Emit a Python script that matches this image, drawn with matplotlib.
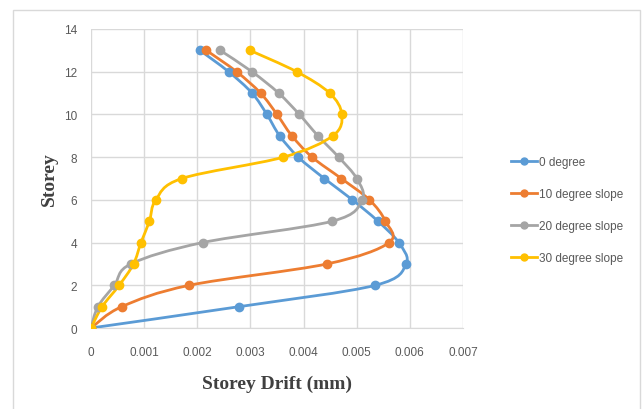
"""
Storey drift profiles for sloped-ground frames (0/10/20/30 degree)
"""
import numpy as np
import matplotlib
matplotlib.use("Agg")
import matplotlib.pyplot as plt
from matplotlib.path import Path
from matplotlib.patches import PathPatch, Rectangle
from matplotlib.lines import Line2D

storey = [0, 1, 2, 3, 4, 5, 6, 7, 8, 9, 10, 11, 12, 13]

drift_0 = [0, 0.00279, 0.00535, 0.00593, 0.00579, 0.00540, 0.00492, 0.00439,
           0.00390, 0.00355, 0.00331, 0.00303, 0.00259, 0.00205]
drift_10 = [0, 0.00058, 0.00185, 0.00444, 0.00561, 0.00554, 0.00524, 0.00471,
            0.00416, 0.00378, 0.00350, 0.00319, 0.00274, 0.00217]
drift_20 = [0, 0.00013, 0.00044, 0.00075, 0.00210, 0.00454, 0.00510, 0.00500,
            0.00466, 0.00427, 0.00392, 0.00353, 0.00303, 0.00243]
drift_30 = [0, 0.00021, 0.00053, 0.00080, 0.00094, 0.00110, 0.00122, 0.00171,
            0.00362, 0.00455, 0.00472, 0.00449, 0.00387, 0.00299]

series = [
    ("0 degree", drift_0, "#5b9bd5"),
    ("10 degree slope", drift_10, "#ed7d31"),
    ("20 degree slope", drift_20, "#a5a5a5"),
    ("30 degree slope", drift_30, "#ffc000"),
]

x_ticks = [0, 0.001, 0.002, 0.003, 0.004, 0.005, 0.006, 0.007]
x_tick_labels = ["0", "0.001", "0.002", "0.003", "0.004", "0.005", "0.006", "0.007"]
y_ticks = [0, 2, 4, 6, 8, 10, 12, 14]

TICK_FONT = ["Liberation Sans Narrow", "Liberation Sans", "DejaVu Sans"]
LABEL_FONT = ["Liberation Serif", "DejaVu Serif"]


def smooth_path(xs, ys):
    """Excel-style smoothed line: cubic Bezier segments through every point."""
    pts = np.column_stack([xs, ys])
    n = len(pts)
    verts = [pts[0]]
    codes = [Path.MOVETO]
    for i in range(n - 1):
        p0 = pts[i - 1] if i > 0 else pts[i]
        p1 = pts[i]
        p2 = pts[i + 1]
        p3 = pts[i + 2] if i + 2 < n else pts[i + 1]
        c1 = p1 + (p2 - p0) / 6.0
        c2 = p2 - (p3 - p1) / 6.0
        verts += [c1, c2, p2]
        codes += [Path.CURVE4] * 3
    return Path(verts, codes)


fig = plt.figure(figsize=(6.42, 4.10), dpi=100)
fig.add_artist(Rectangle((13 / 642, -0.05), 627 / 642, 1.05 - 11 / 410,
                         transform=fig.transFigure, fill=False,
                         edgecolor="#d9d9d9", linewidth=1.0))

ax = fig.add_axes([91 / 642, 1 - 329 / 410, 372 / 642, 299 / 410])

for name, xs, color in series:
    ax.add_patch(PathPatch(smooth_path(xs, storey), facecolor="none",
                           edgecolor=color, linewidth=2.0, zorder=3))
    ax.plot(xs, storey, linestyle="none", marker="o", markersize=6,
            color=color, zorder=4)

ax.set_xlim(0, 0.007)
ax.set_ylim(0, 14)
ax.set_xticks(x_ticks)
ax.set_xticklabels(x_tick_labels)
ax.set_yticks(y_ticks)
for lbl in ax.get_xticklabels() + ax.get_yticklabels():
    lbl.set_family(TICK_FONT)
    lbl.set_fontsize(8.5)
    lbl.set_color("#595959")
ax.tick_params(length=0)
ax.tick_params(axis="x", pad=13)
ax.tick_params(axis="y", pad=10)
ax.grid(color="#d9d9d9", linewidth=1.0)
ax.set_axisbelow(True)
for side in ["top", "right", "left"]:
    ax.spines[side].set_visible(False)
ax.spines["bottom"].set_color("#d9d9d9")

ax.set_xlabel("Storey Drift (mm)", family=LABEL_FONT, fontsize=14,
              fontweight="bold", color="#404040", labelpad=12)
ax.set_ylabel("Storey", family=LABEL_FONT, fontsize=14, fontweight="bold",
              color="#404040", labelpad=4)

handles = [Line2D([], [], color=c, linewidth=2.0, marker="o", markersize=5)
           for _, _, c in series]
leg = fig.legend(handles, [s[0] for s in series], loc="center left",
                 bbox_to_anchor=(500 / 642, 1 - 211 / 410), frameon=False,
                 handlelength=2.2, handletextpad=0.2, labelspacing=1.7,
                 prop={"family": TICK_FONT, "size": 8.5})
for t in leg.get_texts():
    t.set_color("#595959")

fig.savefig("out.png", dpi=100)
